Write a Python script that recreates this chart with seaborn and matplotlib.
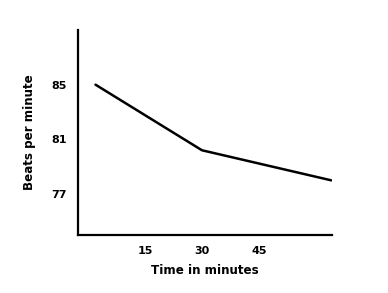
import matplotlib
matplotlib.use("Agg")
import matplotlib.pyplot as plt
import seaborn as sns
import pandas as pd

time_min = [2, 30, 64]
beats = [85.0, 80.2, 78.0]
x_ticks = [15, 30, 45]
y_ticks = [77, 81, 85]

sns.set_theme(style="white")
plt.rcParams['font.family'] = ['DejaVu Sans']

df = pd.DataFrame({"Time in minutes": time_min, "Beats per minute": beats})

fig = plt.figure(figsize=(3.88, 2.93), dpi=100)
ax = fig.add_axes([78/388, 58/293, 254/388, 205/293])
sns.lineplot(data=df, x="Time in minutes", y="Beats per minute", ax=ax,
             color="black", linewidth=1.8)

ax.set_xlim(-2.6, 64.2)
ax.set_ylim(74.0, 89.0)
ax.set_xticks(x_ticks)
ax.set_yticks(y_ticks)
ax.set_xticklabels([str(v) for v in x_ticks], fontsize=8, fontweight="bold", color="black")
ax.set_yticklabels([str(v) for v in y_ticks], fontsize=8, fontweight="bold", color="black")
ax.tick_params(axis="both", length=0)
ax.tick_params(axis="x", pad=8)
ax.tick_params(axis="y", pad=8)
ax.set_xlabel("Time in minutes", fontsize=8.6, fontweight="bold", labelpad=6, color="black")
ax.set_ylabel("Beats per minute", fontsize=8.6, fontweight="bold", labelpad=11, color="black")

for s in ["top", "right"]:
    ax.spines[s].set_visible(False)
for s in ["left", "bottom"]:
    ax.spines[s].set_color("black")
    ax.spines[s].set_linewidth(1.6)
ax.grid(False)

fig.savefig("out.png", dpi=100)
